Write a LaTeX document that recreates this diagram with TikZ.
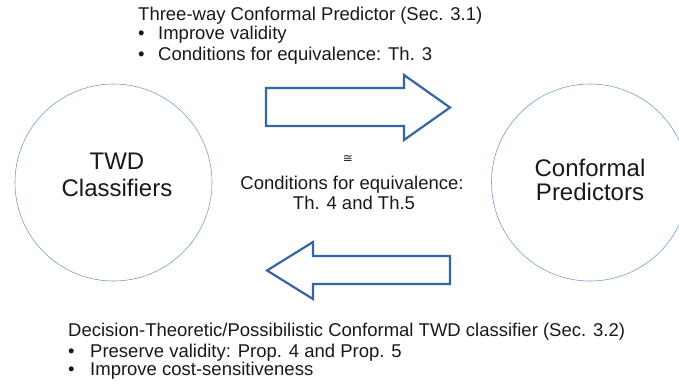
\documentclass[tikz,border=0pt]{standalone}
\usepackage{fontspec}
\setmainfont{Liberation Sans}
\newfontfamily\symfont{DejaVu Sans}
\usetikzlibrary{positioning}
\definecolor{arrowblue}{RGB}{52,101,164}
\definecolor{ringblue}{RGB}{114,159,207}

\begin{document}
\begin{tikzpicture}[x=1pt, y=-1pt,
        ring/.style={circle, draw=ringblue, line width=0.6pt, minimum size=197pt, inner sep=0pt},
        bigtext/.style={font=\fontsize{24}{27}\selectfont, anchor=base, inner sep=0pt, text=black!90},
        note/.style={font=\fontsize{18.5}{20}\selectfont, anchor=base west, inner sep=0pt, text=black!90},
        midtext/.style={font=\fontsize{18.5}{20}\selectfont, anchor=base, inner sep=0pt, text=black!90},
        blockarrow/.style={draw=arrowblue, line width=2.2pt, line join=miter, fill=white}]

    \useasboundingbox (0,0) rectangle (679,386);
    \clip (0,0) rectangle (679,386);

    % the two classes of models
    \node[ring] (twd) at (113.5,182.5) {};
    \node[ring] (cp) at (590,182.5) {};
    \node[bigtext] (twd1) at (117,169) {TWD};
    \node[bigtext] (twd2) at (117,196) {Classifiers};
    \node[bigtext] (cp1) at (590,176.5) {Conformal};
    \node[bigtext] (cp2) at (590,200.5) {Predictors};

    % block arrows
    \draw[blockarrow] (266,88) -- (404,88) -- (404,75) -- (450,107.5) -- (404,140) -- (404,126) -- (266,126) -- cycle;
    \draw[blockarrow] (450,256) -- (313,256) -- (313,242) -- (267,270.5) -- (313,299) -- (313,284) -- (450,284) -- cycle;

    % middle
    \node[inner sep=0pt, font=\symfont\fontsize{12}{12}\selectfont, text=black!90] (cong) at (348,159) {≅};
    \node[midtext] (cond) at (352,189) {Conditions for equivalence:};
    \node[midtext] (ths) at (354,209) {Th. 4 and Th.5};

    % top
    \node[note] (top0) at (138,20) {Three-way Conformal Predictor (Sec. 3.1)};
    \node[note] (top1) at (138,39.5) {\makebox[20pt][l]{\textbullet}Improve validity};
    \node[note] (top2) at (138,60) {\makebox[20pt][l]{\textbullet}Conditions for equivalence: Th. 3};

    % bottom
    \node[note] (bot0) at (68,336) {Decision-Theoretic/Possibilistic Conformal TWD classifier (Sec. 3.2)};
    \node[note] (bot1) at (68,357) {\makebox[22pt][l]{\textbullet}Preserve validity: Prop. 4 and Prop. 5};
    \node[note] (bot2) at (68,375) {\makebox[22pt][l]{\textbullet}Improve cost-sensitiveness};
\end{tikzpicture}
\end{document}
